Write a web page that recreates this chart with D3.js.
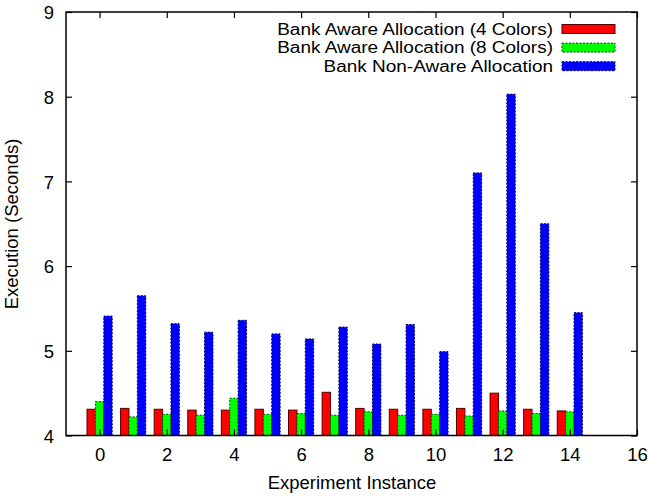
<!DOCTYPE html>
<html><head><meta charset="utf-8">
<script src="https://cdn.jsdelivr.net/npm/d3@7"></script>
<style>body{margin:0;background:#fff}svg{display:block}text{font-family:"Liberation Sans",Arial,sans-serif;fill:#000}</style>
</head><body>
<script>
const instances = [0,1,2,3,4,5,6,7,8,9,10,11,12,13,14];
const aware4 = [4.31,4.32,4.31,4.30,4.30,4.31,4.30,4.51,4.32,4.31,4.31,4.32,4.50,4.31,4.29];
const aware8 = [4.40,4.22,4.25,4.24,4.44,4.25,4.26,4.24,4.28,4.24,4.25,4.23,4.29,4.26,4.28];
const nonAware = [5.41,5.65,5.32,5.22,5.36,5.20,5.14,5.28,5.08,5.31,4.99,7.10,8.03,6.50,5.45];
const seriesNames = ["Bank Aware Allocation (4 Colors)","Bank Aware Allocation (8 Colors)","Bank Non-Aware Allocation"];
const xTicks = [0,2,4,6,8,10,12,14,16];
const yTicks = [4,5,6,7,8,9];

const W=648,H=496, L=66, R=637, T=12, B=435.5;
const FS=18.5;
const svg=d3.select("body").append("svg").attr("width",W).attr("height",H);
const x=d3.scaleLinear().domain([-1,16]).range([L,R]);
const y=d3.scaleLinear().domain([4,9]).range([B,T]);
const series=[
 {name:seriesNames[0],vals:aware4,fill:"#ff0000",stroke:"#550000",dash:null,off:-0.375},
 {name:seriesNames[1],vals:aware8,fill:"#00ff00",stroke:"#005500",dash:"2,1.5",off:-0.125},
 {name:seriesNames[2],vals:nonAware,fill:"#0000ff",stroke:"#000055",dash:"2,1.5",off:0.125}
];
const bw=0.25;
series.forEach(s=>{
 svg.append("g").selectAll("rect").data(instances).join("rect")
  .attr("x",d=>x(d+s.off)).attr("width",x(bw)-x(0))
  .attr("y",(d,i)=>y(s.vals[i])).attr("height",(d,i)=>y(4)-y(s.vals[i]))
  .attr("fill",s.fill).attr("stroke",s.stroke).attr("stroke-width",1)
  .attr("stroke-dasharray",s.dash);
});
const ax=svg.append("g");
ax.append("g").attr("transform",`translate(0,${B})`).call(d3.axisBottom(x).tickValues(xTicks).tickSize(-6).tickFormat(d3.format("d")))
 .call(g=>{g.select(".domain").remove();g.selectAll("text").attr("font-size",FS).attr("y",25.5).attr("dy",0);});
ax.append("g").attr("transform",`translate(0,${T})`).call(d3.axisTop(x).tickValues(xTicks).tickSize(-6).tickFormat(""))
 .call(g=>g.select(".domain").remove());
ax.append("g").attr("transform",`translate(${L},0)`).call(d3.axisLeft(y).tickValues(yTicks).tickSize(-6).tickFormat(d3.format("d")))
 .call(g=>{g.select(".domain").remove();g.selectAll("text").attr("font-size",FS).attr("x",-12).attr("dy","0.36em");});
ax.append("g").attr("transform",`translate(${R},0)`).call(d3.axisRight(y).tickValues(yTicks).tickSize(-6).tickFormat(""))
 .call(g=>g.select(".domain").remove());
ax.selectAll(".tick line").attr("stroke","#000").attr("stroke-width",1.2);
svg.append("rect").attr("x",L).attr("y",T).attr("width",R-L).attr("height",B-T)
 .attr("fill","none").attr("stroke","#000").attr("stroke-width",1.5);
const lg=svg.append("g");
const LFS=16;
series.forEach((s,i)=>{
 const yy=29+i*18.6;
 const t=lg.append("text").attr("x",553).attr("y",yy).attr("dy","0.36em").attr("text-anchor","end").attr("font-size",FS).text(s.name);
 const wFull=t.node().getComputedTextLength()*1.025;
 t.attr("font-size",LFS).attr("textLength",wFull).attr("lengthAdjust","spacingAndGlyphs");
 lg.append("rect").attr("x",562).attr("y",yy-4.5).attr("width",53).attr("height",9)
  .attr("fill",s.fill).attr("stroke",s.stroke).attr("stroke-width",1).attr("stroke-dasharray",s.dash);
});
svg.append("text").attr("x",352).attr("y",489).attr("text-anchor","middle").attr("font-size",FS).text("Experiment Instance");
svg.append("text").attr("transform","translate(18,224) rotate(-90)").attr("text-anchor","middle").attr("font-size",FS).text("Execution (Seconds)");
</script>
</body></html>
